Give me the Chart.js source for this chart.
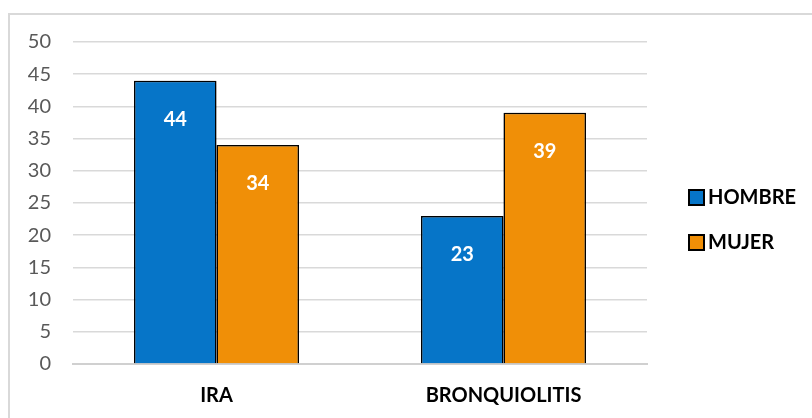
<!DOCTYPE html>
<html>
<head>
<meta charset="utf-8">
<script src="https://cdn.jsdelivr.net/npm/chart.js@4/dist/chart.umd.min.js"></script>
<style>
  html, body { margin: 0; padding: 0; background: #fff; }
  #wrap { position: relative; width: 812px; height: 418px; overflow: hidden; }
  #frame { position: absolute; left: 8px; top: 13px; width: 900px; height: 500px;
           border-left: 2px solid #d9d9d9; border-top: 2px solid #d9d9d9; box-sizing: border-box; }
  canvas { position: absolute; left: 0; top: 0; }
</style>
</head>
<body>
<div id="wrap">
  <div id="frame"></div>
  <canvas id="c" width="812" height="418"></canvas>
</div>
<script>
const categories = ['IRA', 'BRONQUIOLITIS'];
const seriesNames = ['HOMBRE', 'MUJER'];
const hombre = [44, 23];
const mujer = [34, 39];
const yTicks = [0, 5, 10, 15, 20, 25, 30, 35, 40, 45, 50];

const BLUE = '#0675C8';
const ORANGE = '#F08F07';
const FONT = 'Lato, "Open Sans", sans-serif';

// soft shadow behind the bars
const barShadow = {
  id: 'barShadow',
  beforeDatasetsDraw(chart) {
    const ctx = chart.ctx;
    ctx.save();
    ctx.shadowColor = 'rgba(0,0,0,0.4)';
    ctx.shadowBlur = 7;
    ctx.shadowOffsetX = 0;
    ctx.shadowOffsetY = 0;
  },
  afterDatasetsDraw(chart) {
    chart.ctx.restore();
  }
};

// white value labels near the top of each bar
const valueLabels = {
  id: 'valueLabels',
  afterDatasetsDraw(chart) {
    const ctx = chart.ctx;
    ctx.save();
    ctx.fillStyle = '#ffffff';
    ctx.font = 'bold 20px ' + FONT;
    ctx.textAlign = 'center';
    ctx.textBaseline = 'middle';
    chart.data.datasets.forEach((ds, i) => {
      chart.getDatasetMeta(i).data.forEach((bar, j) => {
        ctx.fillText(String(ds.data[j]), bar.x, bar.y + 39);
      });
    });
    ctx.restore();
  }
};

// legend on the right with bordered square swatches
const sideLegend = {
  id: 'sideLegend',
  afterDraw(chart) {
    const ctx = chart.ctx;
    ctx.save();
    ctx.font = 'bold 20px ' + FONT;
    ctx.textBaseline = 'middle';
    ctx.textAlign = 'left';
    chart.data.datasets.forEach((ds, i) => {
      const cy = 197 + i * 45;
      ctx.fillStyle = ds.backgroundColor;
      ctx.fillRect(689, cy - 7, 15, 15);
      ctx.strokeStyle = '#000';
      ctx.lineWidth = 2;
      ctx.strokeRect(689, cy - 7, 15, 15);
      ctx.fillStyle = '#000';
      ctx.fillText(ds.label, 708, cy + 1);
    });
    ctx.restore();
  }
};

new Chart(document.getElementById('c'), {
  type: 'bar',
  data: {
    labels: categories,
    datasets: [
      { label: seriesNames[0], data: hombre, backgroundColor: BLUE, borderColor: '#000', borderWidth: 1.5 },
      { label: seriesNames[1], data: mujer, backgroundColor: ORANGE, borderColor: '#000', borderWidth: 1.5 }
    ]
  },
  options: {
    responsive: false,
    animation: false,
    devicePixelRatio: 1,
    layout: { padding: { left: 0, top: 42, right: 165, bottom: 0 } },
    plugins: { legend: { display: false }, tooltip: { enabled: false } },
    datasets: { bar: { categoryPercentage: 0.575, barPercentage: 1.0 } },
    scales: {
      x: {
        grid: { display: false, drawTicks: false },
        border: { display: true, color: '#d0d0d0', width: 2 },
        ticks: { color: '#000', font: { family: FONT, size: 20, weight: 'bold' }, padding: 20 },
        afterFit(scale) { scale.height = 54; }
      },
      y: {
        min: 0, max: 50,
        afterBuildTicks(scale) { scale.ticks = yTicks.map(v => ({ value: v })); },
        grid: { color: '#d9d9d9', lineWidth: 1.5, drawTicks: false },
        border: { display: false },
        ticks: { color: '#595959', font: { family: FONT, size: 20 }, padding: 22 },
        afterFit(scale) { scale.width = 73; }
      }
    }
  },
  plugins: [barShadow, valueLabels, sideLegend]
});
</script>
</body>
</html>
